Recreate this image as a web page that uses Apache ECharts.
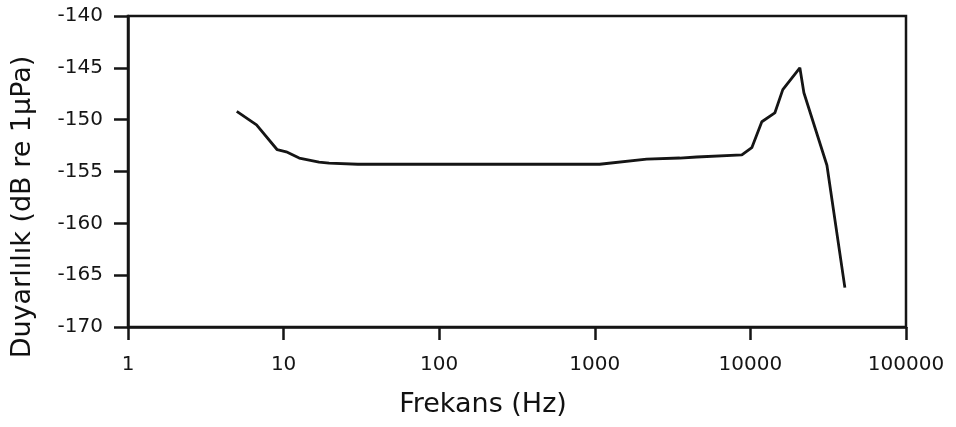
<!DOCTYPE html>
<html>
<head>
<meta charset="utf-8">
<title>Duyarlılık</title>
<script src="https://cdn.jsdelivr.net/npm/echarts@6/dist/echarts.min.js"></script>
<style>
  html, body { margin: 0; padding: 0; background: #fff; }
  #chart { width: 956px; height: 427px; }
</style>
</head>
<body>
<div id="chart"></div>
<script>
// frekans (Hz) ve duyarlılık (dB re 1µPa)
var freqs = [5, 6.7, 9.1, 10.4, 12.6, 16.9, 19.6, 30, 100, 300, 1074, 2155, 3515, 4520, 8810, 10210, 11840, 14350, 16150, 20790, 22070, 31030, 40480];
var sens = [-149.2, -150.5, -152.9, -153.1, -153.7, -154.1, -154.2, -154.3, -154.3, -154.3, -154.3, -153.8, -153.7, -153.6, -153.4, -152.7, -150.2, -149.35, -147.1, -145.0, -147.4, -154.4, -166.2];

var xTicks = [1, 10, 100, 1000, 10000, 100000];
var yTicks = [-170, -165, -160, -155, -150, -145, -140];

var ink = '#151515';
var tickFont = { fontFamily: 'DejaVu Sans', fontSize: 20, color: '#151515' };

var data = [];
for (var i = 0; i < freqs.length; i++) {
  data.push([freqs[i], sens[i]]);
}

var chart = echarts.init(document.getElementById('chart'));
chart.setOption({
  animation: false,
  backgroundColor: '#fff',
  grid: {
    left: 128, right: 50, top: 16, bottom: 100,
    show: true, borderColor: ink, borderWidth: 2.5
  },
  xAxis: {
    type: 'log',
    logBase: 10,
    min: xTicks[0],
    max: xTicks[xTicks.length - 1],
    splitLine: { show: false },
    minorTick: { show: false },
    axisLine: { lineStyle: { color: ink, width: 2.5 } },
    axisTick: { length: 13, lineStyle: { color: ink, width: 2.5 } },
    axisLabel: {
      margin: 28,
      fontFamily: tickFont.fontFamily, fontSize: tickFont.fontSize, color: tickFont.color,
      formatter: function (v) { return String(Math.round(v)); }
    }
  },
  yAxis: {
    type: 'value',
    min: yTicks[0],
    max: yTicks[yTicks.length - 1],
    interval: 5,
    splitLine: { show: false },
    axisLine: { onZero: false, lineStyle: { color: ink, width: 2.5 } },
    axisTick: { length: 14, lineStyle: { color: ink, width: 2.5 } },
    axisLabel: {
      margin: 25,
      fontFamily: tickFont.fontFamily, fontSize: tickFont.fontSize, color: tickFont.color
    }
  },
  graphic: [
    {
      type: 'text', x: 483, y: 405,
      style: { text: 'Frekans (Hz)', font: '27px "DejaVu Sans"', fill: '#111', align: 'center', verticalAlign: 'middle' }
    },
    {
      type: 'text', x: 23, y: 207, rotation: Math.PI / 2,
      style: { text: 'Duyarlılık (dB re 1μPa)', font: '27px "DejaVu Sans"', fill: '#111', align: 'center', verticalAlign: 'middle' }
    }
  ],
  series: [{
    type: 'line',
    data: data,
    symbol: 'none',
    lineStyle: { color: ink, width: 2.8 }
  }]
});
</script>
</body>
</html>
